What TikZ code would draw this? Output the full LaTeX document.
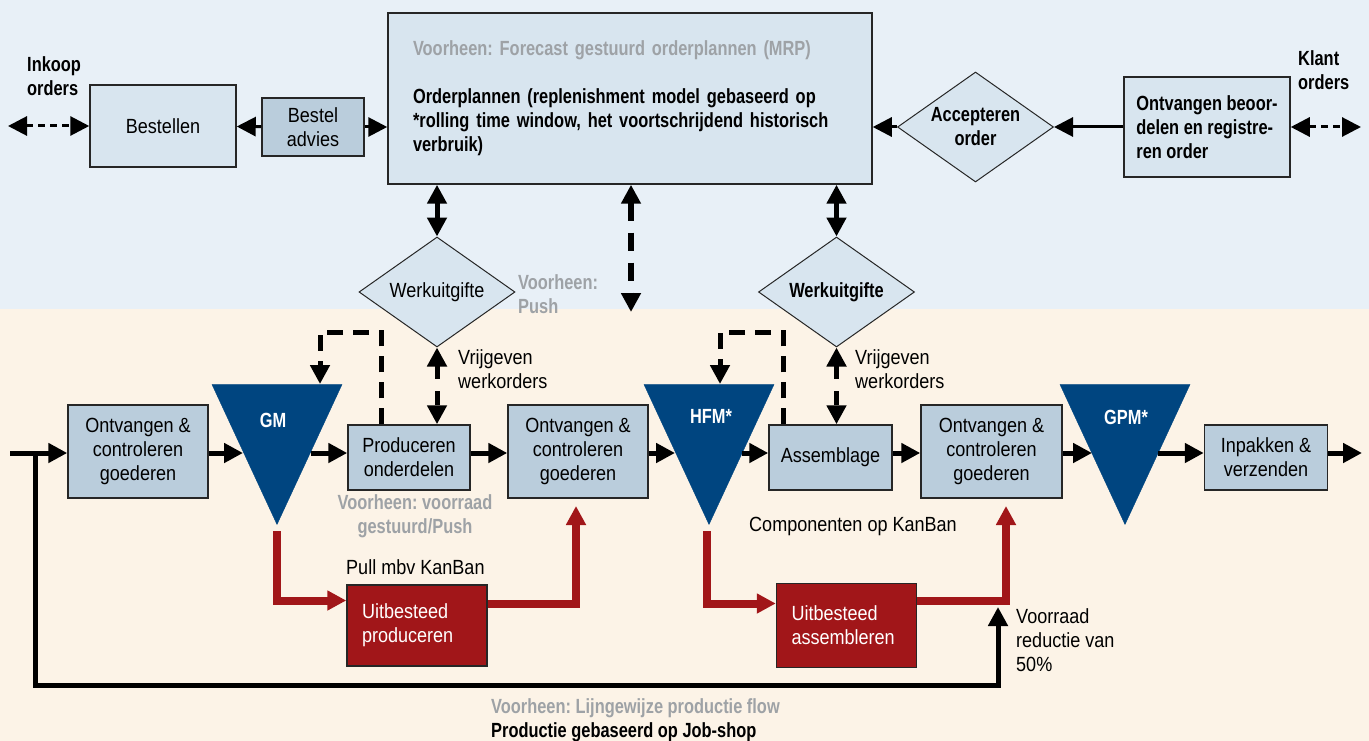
\documentclass[tikz,border=0pt]{standalone}
\usepackage{fontspec}
\setmainfont{Liberation Sans}[FakeStretch=0.88,BoldFeatures={FakeStretch=0.8}]
\usepackage{tikz}
\usetikzlibrary{arrows.meta,shapes.geometric}

\definecolor{bgtop}{RGB}{232,240,247}
\definecolor{bgbot}{RGB}{252,243,231}
\definecolor{boxlight}{RGB}{216,229,239}
\definecolor{boxmid}{RGB}{186,205,220}
\definecolor{voorraad}{RGB}{0,69,128}
\definecolor{uitbest}{RGB}{161,22,25}
\definecolor{voorheen}{RGB}{158,162,166}

\newcommand{\groot}{\fontsize{20.5}{24}\selectfont\frenchspacing}

\tikzset{
  lightbox/.style={draw=black!85,line width=1.5pt,fill=boxlight,align=center,inner sep=0pt},
  midbox/.style={draw=black!85,line width=1.5pt,fill=boxmid,align=center,inner sep=0pt},
  redbox/.style={draw=black!85,line width=1.5pt,fill=uitbest,text=white,align=left,inner xsep=15pt,inner ysep=0pt,text width=110pt,minimum width=140pt},
  beslis/.style={diamond,aspect=1.43,draw=black!85,line width=1pt,fill=boxlight,inner sep=0pt,minimum width=156pt,minimum height=110pt,align=center},
  buffer/.style={isosceles triangle,isosceles triangle stretches,shape border rotate=270,fill=voorraad,draw=voorraad,minimum width=130pt,minimum height=140pt,inner sep=0pt,anchor=apex},
  tekst/.style={inner sep=0pt,align=left},
  vet/.style={font=\groot\bfseries},
  oud/.style={tekst,vet,text=voorheen},
  flow/.style={line width=5pt,->},
  order/.style={line width=3pt,->},
  extern/.style={line width=3pt,<->,dash pattern=on 7pt off 5pt},
  ketting/.style={line width=5pt,<->},
  vrijgeven/.style={line width=5pt,<->,dash pattern=on 14pt off 12pt},
  oudpijl/.style={line width=6pt,<->,dash pattern=on 18pt off 12pt},
  signaal/.style={line width=5pt,->,dash pattern=on 16pt off 10pt},
  kanban/.style={line width=8pt,->,color=uitbest},
  terug/.style={line width=5pt,->}
}

\begin{document}
\begin{tikzpicture}[x=1pt,y=-1pt,>={Triangle[length=19pt,width=19pt]},every node/.style={font=\groot}]
  \useasboundingbox (0,0) rectangle (1369,741);
  \fill[bgtop] (0,0) rectangle (1369,309);
  \fill[bgbot] (0,309) rectangle (1369,741);

   \draw (27,76) node[tekst,vet,anchor=west] (inkoop) {Inkoop\\orders};
   \draw (163,126) node[lightbox,minimum width=146pt,minimum height=82pt] (bestellen) {Bestellen};
   \draw (313,127) node[midbox,minimum width=102pt,minimum height=58pt] (bestel-advies) {Bestel\\advies};
   \draw (630,98.5) node[lightbox,vet,align=left,inner xsep=25pt,text width=434pt,minimum height=171pt] (orderplannen) {{\color{voorheen}Voorheen: Forecast gestuurd orderplannen (MRP)}\\[24pt]Orderplannen (replenishment model gebaseerd op\\{}*rolling time window, het voortschrijdend historisch\\verbruik)};
   \draw (975.5,127) node[beslis,vet] (accepteren) {Accepteren\\order};
   \draw (1207,127) node[lightbox,vet,align=left,inner xsep=10pt,minimum width=166pt,minimum height=100pt] (ontvangen-order) {Ontvangen beoor-\\delen en registre-\\ren order};
   \draw (1298,70) node[tekst,vet,anchor=west] (klant) {Klant\\orders};

   \draw (437,292) node[beslis] (werkuitgifte) {Werkuitgifte};
   \draw (836.5,292) node[beslis,vet] (werkuitgifte2) {Werkuitgifte};
   \draw (518,294) node[oud,anchor=west] (push) {Voorheen:\\Push};
   \draw (458,369) node[tekst,anchor=west] (vrijgeven) {Vrijgeven\\werkorders};
   \draw (855,369) node[tekst,anchor=west] (vrijgeven2) {Vrijgeven\\werkorders};

   \draw (138,451.5) node[midbox,minimum width=140pt,minimum height=93pt] (ontvangen) {Ontvangen \&\\controleren\\goederen};
   \draw (277,525) node[buffer] (GM) {};
   \draw (273,420) node[tekst,vet,text=white] (GM-tekst) {GM};
   \draw (409,457.5) node[midbox,minimum width=122pt,minimum height=65pt] (produceren) {Produceren\\onderdelen};
   \draw (415,516) node[oud,align=center] (push2) {Voorheen: voorraad\\gestuurd/Push};
   \draw (578,451.5) node[midbox,minimum width=140pt,minimum height=93pt] (ontvangen2) {Ontvangen \&\\controleren\\goederen};
   \draw (709,525) node[buffer] (HFM) {};
   \draw (711,416) node[tekst,vet,text=white] (HFM-tekst) {HFM*};
   \draw (830.5,457.5) node[midbox,minimum width=123pt,minimum height=65pt] (assemblage) {Assemblage};
   \draw (991.5,451.5) node[midbox,minimum width=141pt,minimum height=93pt] (ontvangen3) {Ontvangen \&\\controleren\\goederen};
   \draw (1125,525) node[buffer] (GPM) {};
   \draw (1126,417) node[tekst,vet,text=white] (GPM-tekst) {GPM*};
   \draw (1266,457.5) node[midbox,minimum width=123pt,minimum height=65pt] (inpakken) {Inpakken \&\\verzenden};

   \draw (346,567) node[tekst,anchor=west] (pull) {Pull mbv KanBan};
   \draw (749,526) node[tekst,anchor=west] (componenten) {Componenten op KanBan};
   \draw (417,625.5) node[redbox,minimum height=81pt] (uitbesteed) {Uitbesteed\\produceren};
   \draw (846.5,625.5) node[redbox,minimum height=84pt] (uitbesteed2) {Uitbesteed\\assembleren};
   \draw (1016,640) node[tekst,anchor=west] (reductie) {Voorraad\\reductie van\\50\%};
   \draw (491,720) node[tekst,vet,anchor=west] (jobshop) {{\color{voorheen}Voorheen: Lijngewijze productie flow}\\Productie gebaseerd op Job-shop};

  \coordinate (inkoop-pijl) at (8,126);
  \coordinate (klant-pijl) at (1361,127);
  \coordinate (push-pijl) at (631,312);
  \coordinate (start) at (10,453);
  \coordinate (splitsing) at (35,453);
  \coordinate (GM-in) at (243,453);
  \coordinate (GM-uit) at (311,453);
  \coordinate (HFM-in) at (675,453);
  \coordinate (HFM-uit) at (742,453);
  \coordinate (GPM-in) at (1092,453);
  \coordinate (GPM-uit) at (1158,453);
  \coordinate (eind) at (1362,453);
  \coordinate (GM-top) at (320,384);
  \coordinate (HFM-top) at (720,384);
  \coordinate (GM-rood) at (277,531);
  \coordinate (HFM-rood) at (707,531);
  \coordinate (ontvangen2-rood) at (576,506);
  \coordinate (ontvangen3-rood) at (1006,506);
  \coordinate (reductie-pijl) at (998,607);

        \path[extern] (inkoop-pijl) edge (bestellen.west);
        \path[order] (bestel-advies) edge (bestellen);
        \path[order] (bestel-advies.east) edge (orderplannen.west |- bestel-advies.east);
        \path[order] (accepteren.west) edge (orderplannen.east |- accepteren.west);
        \path[order] (ontvangen-order.west) edge (accepteren.east);
        \path[extern] (ontvangen-order.east) edge (klant-pijl);

        \path[ketting] (werkuitgifte.north |- orderplannen.south) edge (werkuitgifte.north);
        \path[ketting] (werkuitgifte2.north |- orderplannen.south) edge (werkuitgifte2.north);
        \path[oudpijl] (orderplannen.south -| push-pijl) edge (push-pijl);
        \path[vrijgeven] (werkuitgifte.south) edge (werkuitgifte.south |- produceren.north);
        \path[vrijgeven] (werkuitgifte2.south) edge (werkuitgifte2.south |- assemblage.north);

        \path[flow] (start) edge (ontvangen.west |- start);
        \path[flow] (ontvangen.east |- GM-in) edge (GM-in);
        \path[flow] (GM-uit) edge (produceren.west |- GM-uit);
        \path[flow] (produceren.east |- GM-uit) edge (ontvangen2.west |- GM-uit);
        \path[flow] (ontvangen2.east |- HFM-in) edge (HFM-in);
        \path[flow] (HFM-uit) edge (assemblage.west |- HFM-uit);
        \path[flow] (assemblage.east |- HFM-uit) edge (ontvangen3.west |- HFM-uit);
        \path[flow] (ontvangen3.east |- GPM-in) edge (GPM-in);
        \path[flow] (GPM-uit) edge (inpakken.west |- GPM-uit);
        \path[flow] (inpakken.east |- GPM-uit) edge (eind);

        \draw[signaal] ([xshift=-28pt]produceren.north) -- ++(0,-92) -| (GM-top);
        \draw[signaal] ([xshift=-47.5pt]assemblage.north) -- ++(0,-92) -| (HFM-top);

        \draw[kanban] (GM-rood) |- ([yshift=25pt]uitbesteed.west);
        \draw[kanban] ([yshift=22pt]uitbesteed.east) -| (ontvangen2-rood);
        \draw[kanban] (HFM-rood) |- ([yshift=22pt]uitbesteed2.west);
        \draw[kanban] ([yshift=25pt]uitbesteed2.east) -| (ontvangen3-rood);

        \draw[terug] (splitsing) -- ++(0,232) -| (reductie-pijl);
\end{tikzpicture}
\end{document}
